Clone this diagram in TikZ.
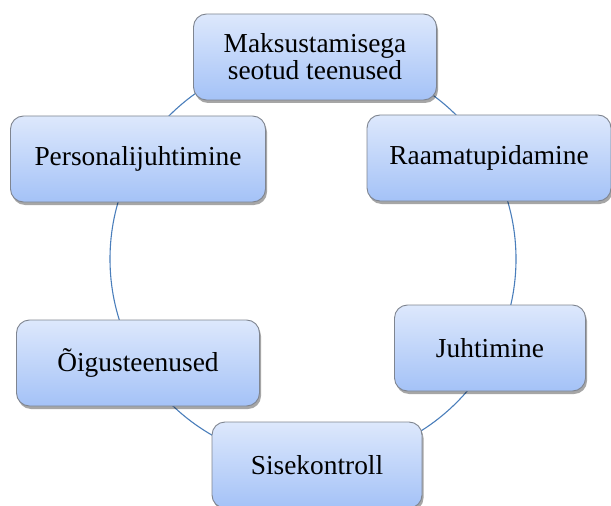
\documentclass[tikz,border=0pt]{standalone}
\usepackage{fontspec}
\setmainfont{Liberation Serif}
\usepackage{xcolor}
\usepackage{tikz}
\usetikzlibrary{shadows}
\definecolor{ringblue}{HTML}{4A7EBB}
\definecolor{boxtop}{HTML}{DDE8FC}
\definecolor{boxbottom}{HTML}{A4C2F7}
\definecolor{boxline}{HTML}{7F8590}
\tikzset{
  task/.style={draw=boxline,line width=0.9bp,rounded corners=13bp,top color=boxtop,bottom color=boxbottom,
    minimum height=86bp,align=center,inner sep=4bp,font=\fontsize{27.5}{27}\selectfont,
    drop shadow={shadow xshift=1.5bp,shadow yshift=-3bp,opacity=0.35,fill=black}},
  ring/.style={draw=ringblue,line width=1.1bp}
}

\begin{document}
\begin{tikzpicture}[x=1bp,y=-1bp]
        \useasboundingbox (0,0) rectangle (611,506);
        \coordinate (hub) at (313,259);
        \draw[ring] (hub) circle[radius=203bp];
        \node[task,minimum width=243bp] (maks) at (315,57) {Maksustamisega\\seotud teenused};
        \node[task,minimum width=244bp] (raamat) at (489,158) {Raamatupidamine};
        \node[task,minimum width=191bp] (juht) at (490,348) {Juhtimine};
        \node[task,minimum width=210bp] (sise) at (317,465) {Sisekontroll};
        \node[task,minimum width=243bp] (oigus) at (138,363) {Õigusteenused};
        \node[task,minimum width=255bp] (personal) at (138,159) {Personalijuhtimine};
      \end{tikzpicture}
\end{document}
